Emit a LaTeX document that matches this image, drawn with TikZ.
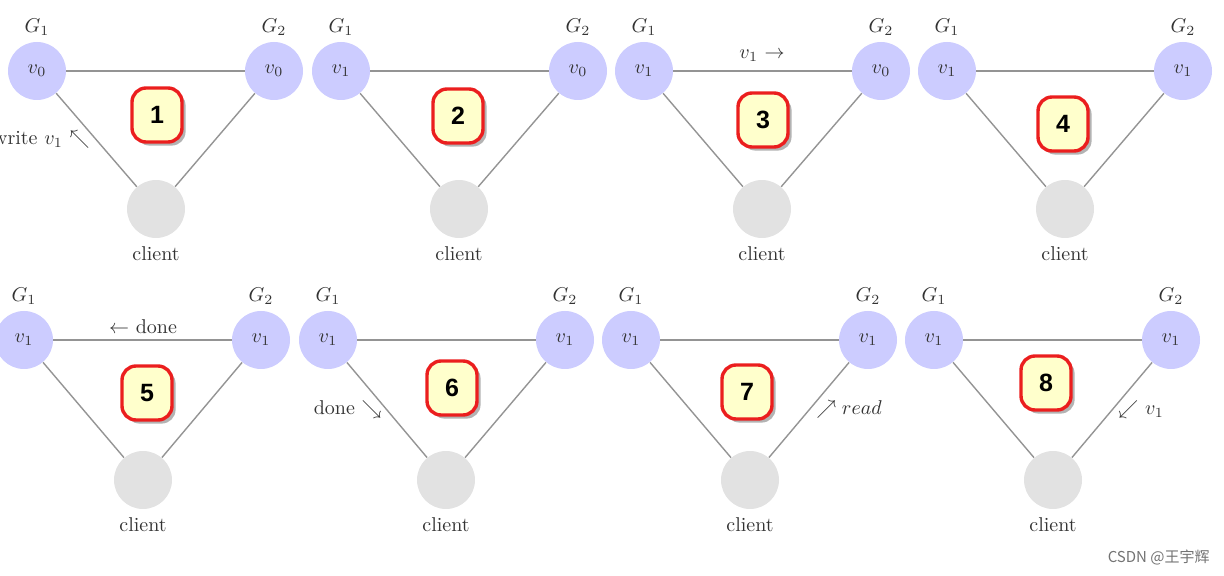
\documentclass[tikz,border=0pt]{standalone}
\usepackage{fontspec}
\newfontfamily\badgefont{Liberation Sans}
\newfontfamily\cjkfont{Noto Sans CJK SC}
\usetikzlibrary{shadows}
\definecolor{gblue}{RGB}{204,204,255}
\definecolor{cgray}{RGB}{226,226,226}
\definecolor{badgefill}{RGB}{255,255,204}
\definecolor{badgered}{RGB}{235,30,30}
\tikzset{
  gnode/.style={circle,fill=gblue,minimum size=29pt,inner sep=0pt,text=black!80},
  cnode/.style={circle,fill=cgray,minimum size=29pt,inner sep=0pt},
  link/.style={draw=black!42,line width=0.7pt},
  badge/.style={rounded corners=7pt,fill=badgefill,draw=badgered,line width=1.7pt,
    minimum width=25pt,minimum height=27pt,inner sep=0pt,
    font=\badgefont\bfseries\fontsize{12.5}{12.5}\selectfont,
    drop shadow={shadow xshift=1.8pt,shadow yshift=-1.8pt,opacity=0.6}},
  lbl/.style={text=black!80,inner sep=0pt},
}
% #1 id, #2 x left, #3 x right, #4 x client, #5 y top, #6 y client, #7 left value, #8 right value, #9 badge position
\newcommand\tripanel[9]{%
  \node[gnode] (p#1l) at (#2,#5) {$#7$};
  \node[gnode] (p#1r) at (#3,#5) {$#8$};
  \node[cnode] (p#1c) at (#4,#6) {};
  \node[lbl] (p#1gl) at (#2,#5-44) {$G_1$};
  \node[lbl] (p#1gr) at (#3,#5-44) {$G_2$};
  \node[lbl] (p#1cl) at (#4,#6+45) {client};
  \draw[link] (p#1l) -- (p#1r);
  \draw[link] (p#1l) -- (p#1c);
  \draw[link] (p#1r) -- (p#1c);
  \node[badge] (p#1n) at (#9) {#1};
}
\begin{document}
\begin{tikzpicture}[x=0.5pt,y=-0.5pt]
\useasboundingbox (0,0) rectangle (1224,576);
\tripanel{1}{37}{274}{156}{71}{209}{v_0}{v_0}{157,115}
\tripanel{2}{341}{578}{459}{71}{209}{v_1}{v_0}{458,116}
\tripanel{3}{644}{881}{762}{71}{209}{v_1}{v_0}{763,120}
\tripanel{4}{947}{1183}{1065}{71}{209}{v_1}{v_1}{1063,124}
\tripanel{5}{24}{261}{143}{340}{480}{v_1}{v_1}{147,393}
\tripanel{6}{328}{565}{446}{340}{480}{v_1}{v_1}{452,388}
\tripanel{7}{631}{868}{750}{340}{480}{v_1}{v_1}{747,392}
\tripanel{8}{934}{1171}{1053}{340}{480}{v_1}{v_1}{1046,383}
\node[lbl,anchor=east] (m1) at (90,140) {write $v_1$ $\nwarrow$};
\node[lbl] (m3) at (762,56) {$v_1$ $\rightarrow$};
\node[lbl] (m5) at (143,327) {$\leftarrow$ done};
\node[lbl,anchor=east] (m6) at (382,410) {done $\searrow$};
\node[lbl,anchor=west] (m7) at (816,410) {$\nearrow read$};
\node[lbl,anchor=west] (m8) at (1118,410) {$\swarrow$ $v_1$};
\node[lbl,anchor=east,text=black!55,font=\cjkfont\fontsize{7.5}{9}\selectfont] (wm) at (1210,558) {CSDN @王宇辉};
\end{tikzpicture}
\end{document}
